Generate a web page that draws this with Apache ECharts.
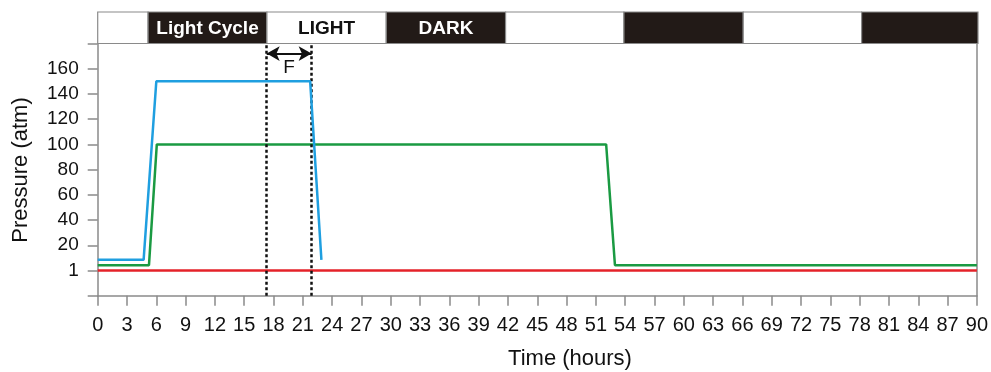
<!DOCTYPE html>
<html>
<head>
<meta charset="utf-8">
<script src="https://cdn.jsdelivr.net/npm/echarts@6/dist/echarts.min.js"></script>
<style>
html,body{margin:0;padding:0;background:#fff;}
#chart{width:991px;height:372px;}
</style>
</head>
<body>
<div id="chart"></div>
<script>
// ---- data ----
var blueHours = [0, 4.7, 6.0, 21.75, 22.9];
var bluePressure = [9, 9, 150, 150, 9];
var greenHours = [0, 5.25, 6.05, 52.05, 52.95, 90];
var greenPressure = [5, 5, 100, 100, 5, 5];
var redHours = [0, 90];
var redPressure = [1, 1];

var lightBounds = [0, 5.15, 17.3, 29.5, 41.7, 53.8, 66.0, 78.1, 90];
var lightDark = [false, true, false, true, false, true, false, true];
var lightLabels = ['', 'Light Cycle', 'LIGHT', 'DARK', '', '', '', ''];

var fWindow = [17.3, 21.9];
var fLabel = 'F';

var yTickValues = [-20, 0, 20, 40, 60, 80, 100, 120, 140, 160, 180];
var yTickLabels = ['', '1', '20', '40', '60', '80', '100', '120', '140', '160', ''];

var xName = 'Time (hours)';
var yName = 'Pressure (atm)';

// broken axis: 1..20 atm is stretched over the 0..20 band
function yScale(v) { return v >= 20 ? v : (v - 1) * 20 / 19; }
function pairs(xs, ys) { return xs.map(function (x, i) { return [x, yScale(ys[i])]; }); }

var FONT = 'Liberation Sans, Arial, sans-serif';
var AXIS = '#8a8a8a';

var chart = echarts.init(document.getElementById('chart'), null, {renderer: 'canvas'});

var lineCommon = {
  type: 'line', xAxisIndex: 0, yAxisIndex: 0, showSymbol: false, symbol: 'none',
  animation: false, silent: true
};

var option = {
  animation: false,
  backgroundColor: '#fff',
  grid: [
    {left: 97.7, right: 13, top: 43.5, bottom: 76.3, containLabel: false},
    {left: 97.7, right: 13, top: 12, height: 31.5, containLabel: false}
  ],
  xAxis: [
    {
      type: 'value', gridIndex: 0, min: 0, max: 90, interval: 3, position: 'bottom',
      axisLine: {show: true, onZero: false, lineStyle: {color: AXIS, width: 1.5}},
      axisTick: {show: true, length: 10, lineStyle: {color: AXIS, width: 1.5}},
      axisLabel: {show: true, margin: 20, fontSize: 20, color: '#111', fontFamily: FONT,
        showMinLabel: true, showMaxLabel: true, hideOverlap: false},
      splitLine: {show: false}
    },
    {
      type: 'value', gridIndex: 1, min: 0, max: 90, show: false
    }
  ],
  yAxis: [
    {
      type: 'value', gridIndex: 0, min: -20, max: 180, interval: 20, position: 'left',
      axisLine: {show: true, onZero: false, lineStyle: {color: AXIS, width: 1.5}},
      axisTick: {show: true, length: 10, lineStyle: {color: AXIS, width: 1.5}},
      axisLabel: {show: true, margin: 19, fontSize: 19, color: '#111', fontFamily: FONT,
        showMinLabel: true, showMaxLabel: true,
        formatter: function (v) {
          var i = yTickValues.indexOf(v);
          return i >= 0 ? yTickLabels[i] : '';
        }},
      splitLine: {show: false}
    },
    {
      type: 'value', gridIndex: 0, position: 'right', min: -20, max: 180,
      axisLine: {show: true, onZero: false, lineStyle: {color: AXIS, width: 1.5}},
      axisTick: {show: false}, axisLabel: {show: false}, splitLine: {show: false}
    },
    {
      type: 'value', gridIndex: 1, min: 0, max: 1, show: false
    }
  ],
  series: [
    Object.assign({}, lineCommon, {
      name: 'red', data: pairs(redHours, redPressure),
      lineStyle: {color: '#e42229', width: 2.5}, z: 3
    }),
    Object.assign({}, lineCommon, {
      name: 'green', data: pairs(greenHours, greenPressure),
      lineStyle: {color: '#1a9a42', width: 2.5}, z: 4
    }),
    Object.assign({}, lineCommon, {
      name: 'blue', data: pairs(blueHours, bluePressure),
      lineStyle: {color: '#1f9fe0', width: 2.5}, z: 5,
      markLine: {
        silent: true, animation: false, symbol: 'none',
        lineStyle: {color: '#111', width: 2.5, type: [3, 2.5]},
        label: {show: false},
        data: [{xAxis: fWindow[0]}, {xAxis: fWindow[1]}]
      }
    }),
    Object.assign({}, lineCommon, {
      name: 'fArrow', data: [],
      markLine: {
        silent: true, animation: false,
        symbol: ['arrow', 'arrow'], symbolSize: [11, 13],
        lineStyle: {color: '#111', width: 2, type: 'solid'},
        label: {show: true, position: 'insideMiddleBottom', formatter: fLabel,
          fontSize: 19, color: '#111', fontFamily: FONT, distance: 5},
        data: [[{coord: [fWindow[0], 172]}, {coord: [fWindow[1], 172]}]]
      }
    }),
    {
      type: 'custom', xAxisIndex: 1, yAxisIndex: 2, silent: true, animation: false,
      data: lightBounds.slice(0, -1).map(function (s, i) { return [s, lightBounds[i + 1], i]; }),
      renderItem: function (params, api) {
        var i = api.value(2);
        var p0 = api.coord([api.value(0), 1]);
        var p1 = api.coord([api.value(1), 0]);
        var dark = lightDark[i];
        var children = [{
          type: 'rect',
          shape: {x: p0[0], y: p0[1], width: p1[0] - p0[0], height: p1[1] - p0[1]},
          style: {fill: dark ? '#221a17' : '#ffffff', stroke: '#8a8a8a', lineWidth: 1.2}
        }];
        if (lightLabels[i]) {
          children.push({
            type: 'text',
            style: {
              text: lightLabels[i], x: (p0[0] + p1[0]) / 2, y: (p0[1] + p1[1]) / 2 + 1,
              align: 'center', verticalAlign: 'middle',
              fill: dark ? '#ffffff' : '#111111',
              font: 'bold 19px ' + FONT
            }
          });
        }
        return {type: 'group', children: children};
      }
    }
  ],
  graphic: [
    {
      type: 'text', silent: true, x: 570, y: 359,
      style: {text: xName, font: '22px ' + FONT, fill: '#111', align: 'center', verticalAlign: 'middle'}
    },
    {
      type: 'text', silent: true, rotation: Math.PI / 2, x: 21, y: 170,
      style: {text: yName, font: '22px ' + FONT, fill: '#111', align: 'center', verticalAlign: 'middle'}
    }
  ]
};
chart.setOption(option);
</script>
</body>
</html>
